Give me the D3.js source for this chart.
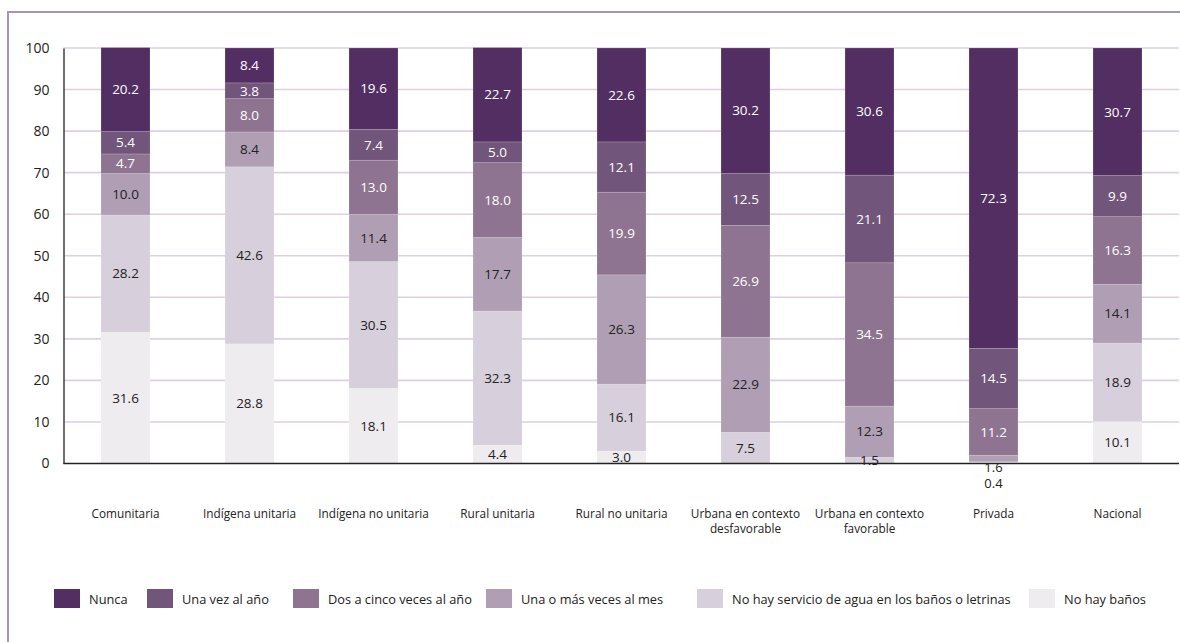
<!DOCTYPE html>
<html><head><meta charset="utf-8">
<script src="https://cdn.jsdelivr.net/npm/d3@7"></script>
<style>body{margin:0;background:#fff}svg{display:block}</style>
</head><body>
<svg id="c" width="1180" height="642"></svg>
<script>
const categories = [["Comunitaria"],["Indígena unitaria"],["Indígena no unitaria"],["Rural unitaria"],["Rural no unitaria"],["Urbana en contexto","desfavorable"],["Urbana en contexto","favorable"],["Privada"],["Nacional"]];
const seriesNames = ["No hay baños","No hay servicio de agua en los baños o letrinas","Una o más veces al mes","Dos a cinco veces al año","Una vez al año","Nunca"];
const noHayBanos   = [31.6, 28.8, 18.1, 4.4, 3.0, 0, 0, 0.4, 10.1];
const noHayServicio= [28.2, 42.6, 30.5, 32.3, 16.1, 7.5, 1.5, 0, 18.9];
const unaOMasMes   = [10.0, 8.4, 11.4, 17.7, 26.3, 22.9, 12.3, 1.6, 14.1];
const dosACinco    = [4.7, 8.0, 13.0, 18.0, 19.9, 26.9, 34.5, 11.2, 16.3];
const unaVezAnio   = [5.4, 3.8, 7.4, 5.0, 12.1, 12.5, 21.1, 14.5, 9.9];
const nunca        = [20.2, 8.4, 19.6, 22.7, 22.6, 30.2, 30.6, 72.3, 30.7];
const yTicks = [0,10,20,30,40,50,60,70,80,90,100];
const legendOrder = ["Nunca","Una vez al año","Dos a cinco veces al año","Una o más veces al mes","No hay servicio de agua en los baños o letrinas","No hay baños"];

const colors = {"Nunca":"#532e63","Una vez al año":"#72557a","Dos a cinco veces al año":"#8e7490","Una o más veces al mes":"#b09fb4","No hay servicio de agua en los baños o letrinas":"#d7cfdb","No hay baños":"#efecf0"};
const darkSeries = new Set(["Nunca","Una vez al año","Dos a cinco veces al año"]);
const seriesVals = [noHayBanos,noHayServicio,unaOMasMes,dosACinco,unaVezAnio,nunca];

const FONT = "'Open Sans', 'Noto Sans', sans-serif";
const svg = d3.select("#c");
// frame
svg.append("path").attr("d","M8,650 L8,12 L1190,12").attr("fill","none").attr("stroke","#a793b5").attr("stroke-width",2);

const x0 = 63.5, x1 = 63.5 + 9*124;
const x = d3.scaleBand().domain(d3.range(categories.length)).range([x0, x1]).paddingInner(0.605).paddingOuter(0.3025);
const y = d3.scaleLinear().domain([0,100]).range([463.5, 48]);

// grid
svg.append("g").selectAll("line").data(yTicks.filter(t=>t>0)).join("line")
  .attr("x1", x0).attr("x2", 1179).attr("y1", d=>y(d)).attr("y2", d=>y(d))
  .attr("stroke","#dcd0e2").attr("stroke-width",1.6);

// stacked data
const rows = categories.map((c,i)=>{const r={i}; seriesNames.forEach((s,k)=>r[s]=seriesVals[k][i]); return r;});
const stack = d3.stack().keys(seriesNames)(rows);

const gBars = svg.append("g");
stack.forEach(layer=>{
  gBars.append("g").attr("fill", colors[layer.key]).selectAll("rect").data(layer).join("rect")
    .attr("x", (d,i)=>x(i)).attr("width", x.bandwidth())
    .attr("y", d=>y(d[1])).attr("height", d=>Math.max(0, y(d[0])-y(d[1])))
    .attr("stroke","rgba(255,255,255,0.25)").attr("stroke-width",0.6);
});

// axes
const yAxis = d3.axisLeft(y).tickValues(yTicks).tickSize(0).tickPadding(14);
const ga = svg.append("g").attr("transform",`translate(${x0},0)`).call(yAxis);
ga.select(".domain").attr("stroke","#222").attr("stroke-width",1.3);
ga.selectAll("text").attr("font-family",FONT).attr("font-size",14).attr("fill","#222");
svg.append("line").attr("x1",x0).attr("x2",1179).attr("y1",y(0)).attr("y2",y(0)).attr("stroke","#222").attr("stroke-width",1.3);

// value labels
const gl = svg.append("g").attr("font-family",FONT).attr("font-size",13.5).attr("text-anchor","middle");
stack.forEach(layer=>{
  layer.forEach((d,i)=>{
    const v = d[1]-d[0];
    if (v <= 0) return;
    let cy = (y(d[0])+y(d[1]))/2;
    let fill = darkSeries.has(layer.key) ? "#fff" : "#222";
    const tinyBelow = v < 1;
    const nextTiny = !tinyBelow && d[0] > 0 && d[0] < 1 && v < 2;
    let fs = null;
    if (tinyBelow) { cy = y(0) + 20; fill = "#222"; fs = 13; }
    else if (nextTiny) { cy = y(0) + 4; fill = "#222"; fs = 13; }
    const t = gl.append("text").attr("x", x(i)+x.bandwidth()/2).attr("y", cy).attr("dy","0.35em")
      .attr("fill", fill).text(v.toFixed(1));
    if (fs) t.attr("font-size", fs);
  });
});

// category labels
const gc = svg.append("g").attr("font-family",FONT).attr("font-size",11.8).attr("text-anchor","middle").attr("fill","#222");
categories.forEach((lines,i)=>{
  const t = gc.append("text").attr("x", x(i)+x.bandwidth()/2).attr("y", 518);
  lines.forEach((ln,k)=>t.append("tspan").attr("x", x(i)+x.bandwidth()/2).attr("dy", k===0?0:15).text(ln));
});

// legend
const legendX = [54, 147, 293, 486, 697, 1029];
const gL = svg.append("g").attr("font-family",FONT).attr("font-size",12.8).attr("fill","#222");
legendOrder.forEach((name,k)=>{
  gL.append("rect").attr("x",legendX[k]).attr("y",589).attr("width",26).attr("height",19).attr("fill",colors[name]);
  gL.append("text").attr("x",legendX[k]+35).attr("y",604).text(name);
});
</script>
</body></html>
